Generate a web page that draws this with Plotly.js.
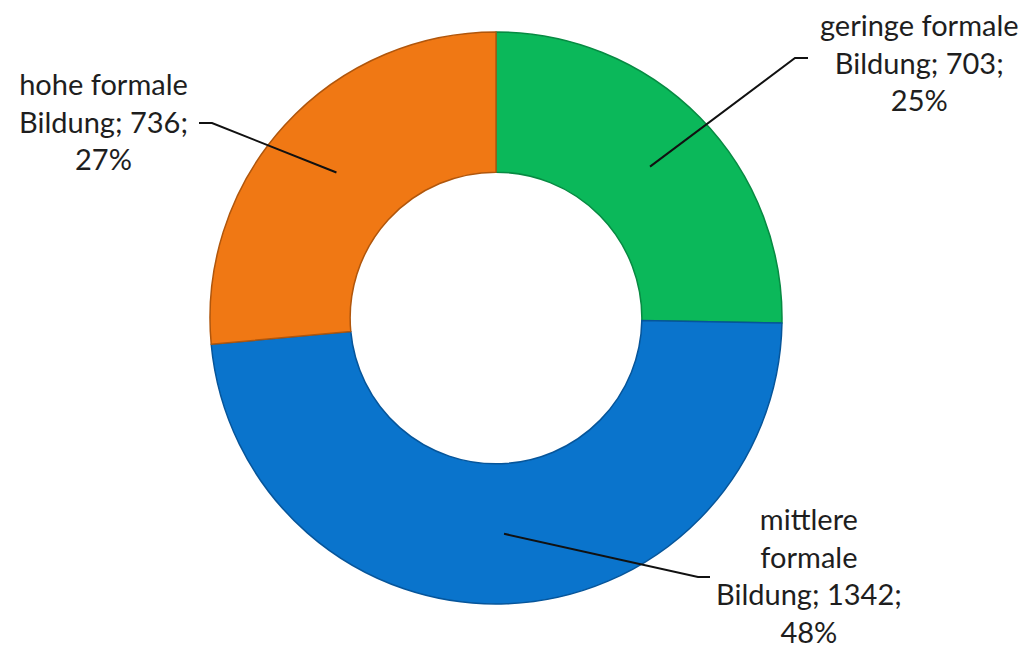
<!DOCTYPE html>
<html>
<head>
<meta charset="utf-8">
<script src="https://cdn.plot.ly/plotly-3.0.1.min.js"></script>
<style>html,body{margin:0;padding:0;background:#fff;}#chart{width:1027px;height:649px;}</style>
</head>
<body>
<div id="chart"></div>
<script>
const categories = ["geringe formale Bildung", "mittlere formale Bildung", "hohe formale Bildung"];
const labelLines = [["geringe formale", "Bildung; 703;", "25%"], ["mittlere", "formale", "Bildung; 1342;", "48%"], ["hohe formale", "Bildung; 736;", "27%"]];
const values = [703, 1342, 736];
const colors = ["#0bb85a", "#0a74cc", "#f07814"];
const edgeColors = ["#078a42", "#06559a", "#b0560c"];

const W = 1027, H = 649;
const cx = 496, cy = 318, R = 286, hole = 0.51;

// layout of labels (pixel positions of label text centres and leader elbows)
const labelPos = [
  {x: 919, y: 62, elbow: [795, 58], end: [808, 58]},
  {x: 809, y: 575, elbow: [698, 577], end: [710, 577]},
  {x: 103, y: 121, elbow: [212, 123], end: [199, 123]}
];

const total = values.reduce((a, b) => a + b, 0);
const px = x => x / W, py = y => 1 - y / H;

const shapes = [], annotations = [];
let cum = 0;
values.forEach((v, i) => {
  const mid = (cum + v / 2) / total;
  cum += v;
  const th = mid * 2 * Math.PI;
  const rr = R * (1 + hole) / 2;
  const ax = cx + rr * Math.sin(th), ay = cy - rr * Math.cos(th);
  const lp = labelPos[i];
  shapes.push({
    type: "path", xref: "paper", yref: "paper",
    path: `M ${px(ax)} ${py(ay)} L ${px(lp.elbow[0])} ${py(lp.elbow[1])} L ${px(lp.end[0])} ${py(lp.end[1])}`,
    line: {color: "#111", width: 2}
  });
  annotations.push({
    xref: "paper", yref: "paper", x: px(lp.x), y: py(lp.y),
    xanchor: "center", yanchor: "middle", align: "center", showarrow: false,
    text: labelLines[i].join("<br>"),
    font: {family: "Lato, 'Open Sans', sans-serif", size: 29, color: "#1e1e1e"}
  });
});

const data = [{
  type: "pie",
  labels: categories,
  values: values,
  hole: hole,
  sort: false,
  direction: "clockwise",
  rotation: 0,
  textinfo: "none",
  hoverinfo: "label+value+percent",
  marker: {colors: colors, line: {color: edgeColors, width: 1.5}},
  domain: {x: [px(cx - R), px(cx + R)], y: [py(cy + R), py(cy - R)]},
  showlegend: false
}];

const layout = {
  width: W, height: H,
  margin: {l: 0, r: 0, t: 0, b: 0},
  paper_bgcolor: "#ffffff",
  showlegend: false,
  shapes: shapes,
  annotations: annotations
};

Plotly.newPlot("chart", data, layout, {displayModeBar: false, staticPlot: true});
</script>
</body>
</html>
